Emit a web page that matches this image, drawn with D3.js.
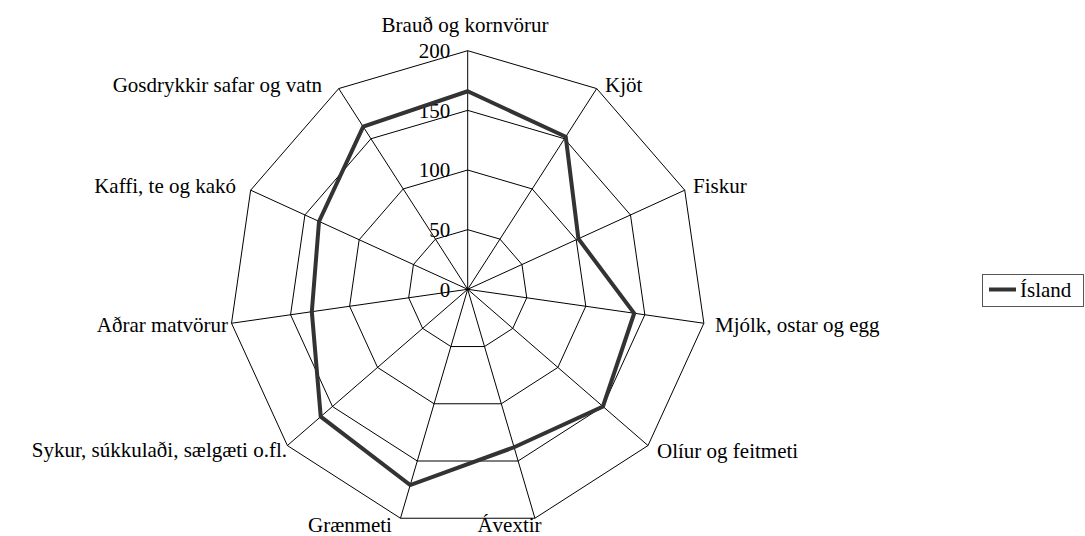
<!DOCTYPE html>
<html>
<head>
<meta charset="utf-8">
<script src="https://cdn.jsdelivr.net/npm/d3@7"></script>
<style>
  body { margin: 0; background: #fff; }
  svg { display: block; }
</style>
</head>
<body>
<svg id="chart" width="1085" height="536"></svg>
<script>
// categories, clockwise from the top
const categories = [
  "Brauð og kornvörur", "Kjöt", "Fiskur", "Mjólk, ostar og egg",
  "Olíur og feitmeti", "Ávextir", "Grænmeti",
  "Sykur, súkkulaði, sælgæti o.fl.", "Aðrar matvörur",
  "Kaffi, te og kakó", "Gosdrykkir safar og vatn"
];
const seriesName = "Ísland";
const islandValues = [166, 152, 102, 141, 150, 138, 171, 163, 132, 137, 162];
const ticks = [0, 50, 100, 150, 200];

// layout
const cx = 467.7, cy = 289.3, R = 238.6;
const fontFamily = "'Liberation Serif', 'Times New Roman', Tinos, 'DejaVu Serif', serif";
// label nudges relative to the outer vertex: [dx, dy, anchor]
const labelNudge = [
  [-2.7, -18.7, "middle"], [8.3, 3.4, "start"], [8.3, 2.8, "start"],
  [11.1, 8.8, "start"], [9, 12.4, "start"], [-25.4, 13.8, "middle"],
  [-8.5, 13.8, "end"], [-0.4, 11.4, "end"], [-3.5, 8.8, "end"],
  [-14.6, 2.8, "end"], [-16.7, 3.4, "end"]
];

const svg = d3.select("#chart")
  .attr("font-family", fontFamily)
  .attr("font-size", 21);

const r = d3.scaleLinear().domain([0, 200]).range([0, R]);
const angle = d3.scaleLinear()
  .domain([0, categories.length])
  .range([0, 2 * Math.PI]);

const pt = (i, v) => {
  const a = angle(i);
  return [cx + Math.sin(a) * r(v), cy - Math.cos(a) * r(v)];
};

const g = svg.append("g");

// grid rings
const ringLine = d3.line().curve(d3.curveLinearClosed);
g.selectAll("path.ring")
  .data(ticks.filter(t => t > 0))
  .enter().append("path")
  .attr("class", "ring")
  .attr("d", t => ringLine(categories.map((c, i) => pt(i, t))))
  .attr("fill", "none")
  .attr("stroke", "#000")
  .attr("stroke-width", 1);

// spokes
g.selectAll("line.spoke")
  .data(categories)
  .enter().append("line")
  .attr("class", "spoke")
  .attr("x1", cx).attr("y1", cy)
  .attr("x2", (d, i) => pt(i, 200)[0])
  .attr("y2", (d, i) => pt(i, 200)[1])
  .attr("stroke", "#000")
  .attr("stroke-width", 1);

// tick labels
g.selectAll("text.tick")
  .data(ticks)
  .enter().append("text")
  .attr("class", "tick")
  .attr("x", cx - 17.5)
  .attr("y", d => cy - r(d))
  .attr("dy", "0.35em")
  .attr("text-anchor", "end")
  .attr("font-family", fontFamily)
  .text(d => d);

// data line
g.append("path")
  .datum(islandValues)
  .attr("d", vals => ringLine(vals.map((v, i) => pt(i, v))))
  .attr("fill", "none")
  .attr("stroke", "#333")
  .attr("stroke-width", 4)
  .attr("stroke-linejoin", "miter");

// category labels
g.selectAll("text.cat")
  .data(categories)
  .enter().append("text")
  .attr("class", "cat")
  .attr("x", (d, i) => pt(i, 200)[0] + labelNudge[i][0])
  .attr("y", (d, i) => pt(i, 200)[1] + labelNudge[i][1])
  .attr("text-anchor", (d, i) => labelNudge[i][2])
  .attr("font-family", fontFamily)
  .text(d => d);

// legend
const legend = svg.append("g").attr("transform", "translate(982,274)");
legend.append("rect")
  .attr("x", 0.5).attr("y", 0.5)
  .attr("width", 101).attr("height", 32)
  .attr("fill", "#fff")
  .attr("stroke", "#555")
  .attr("stroke-width", 1);
legend.append("line")
  .attr("x1", 7).attr("x2", 34)
  .attr("y1", 15.5).attr("y2", 15.5)
  .attr("stroke", "#333")
  .attr("stroke-width", 4);
legend.append("text")
  .attr("x", 38).attr("y", 23)
  .attr("font-family", fontFamily)
  .text(seriesName);
</script>
</body>
</html>
